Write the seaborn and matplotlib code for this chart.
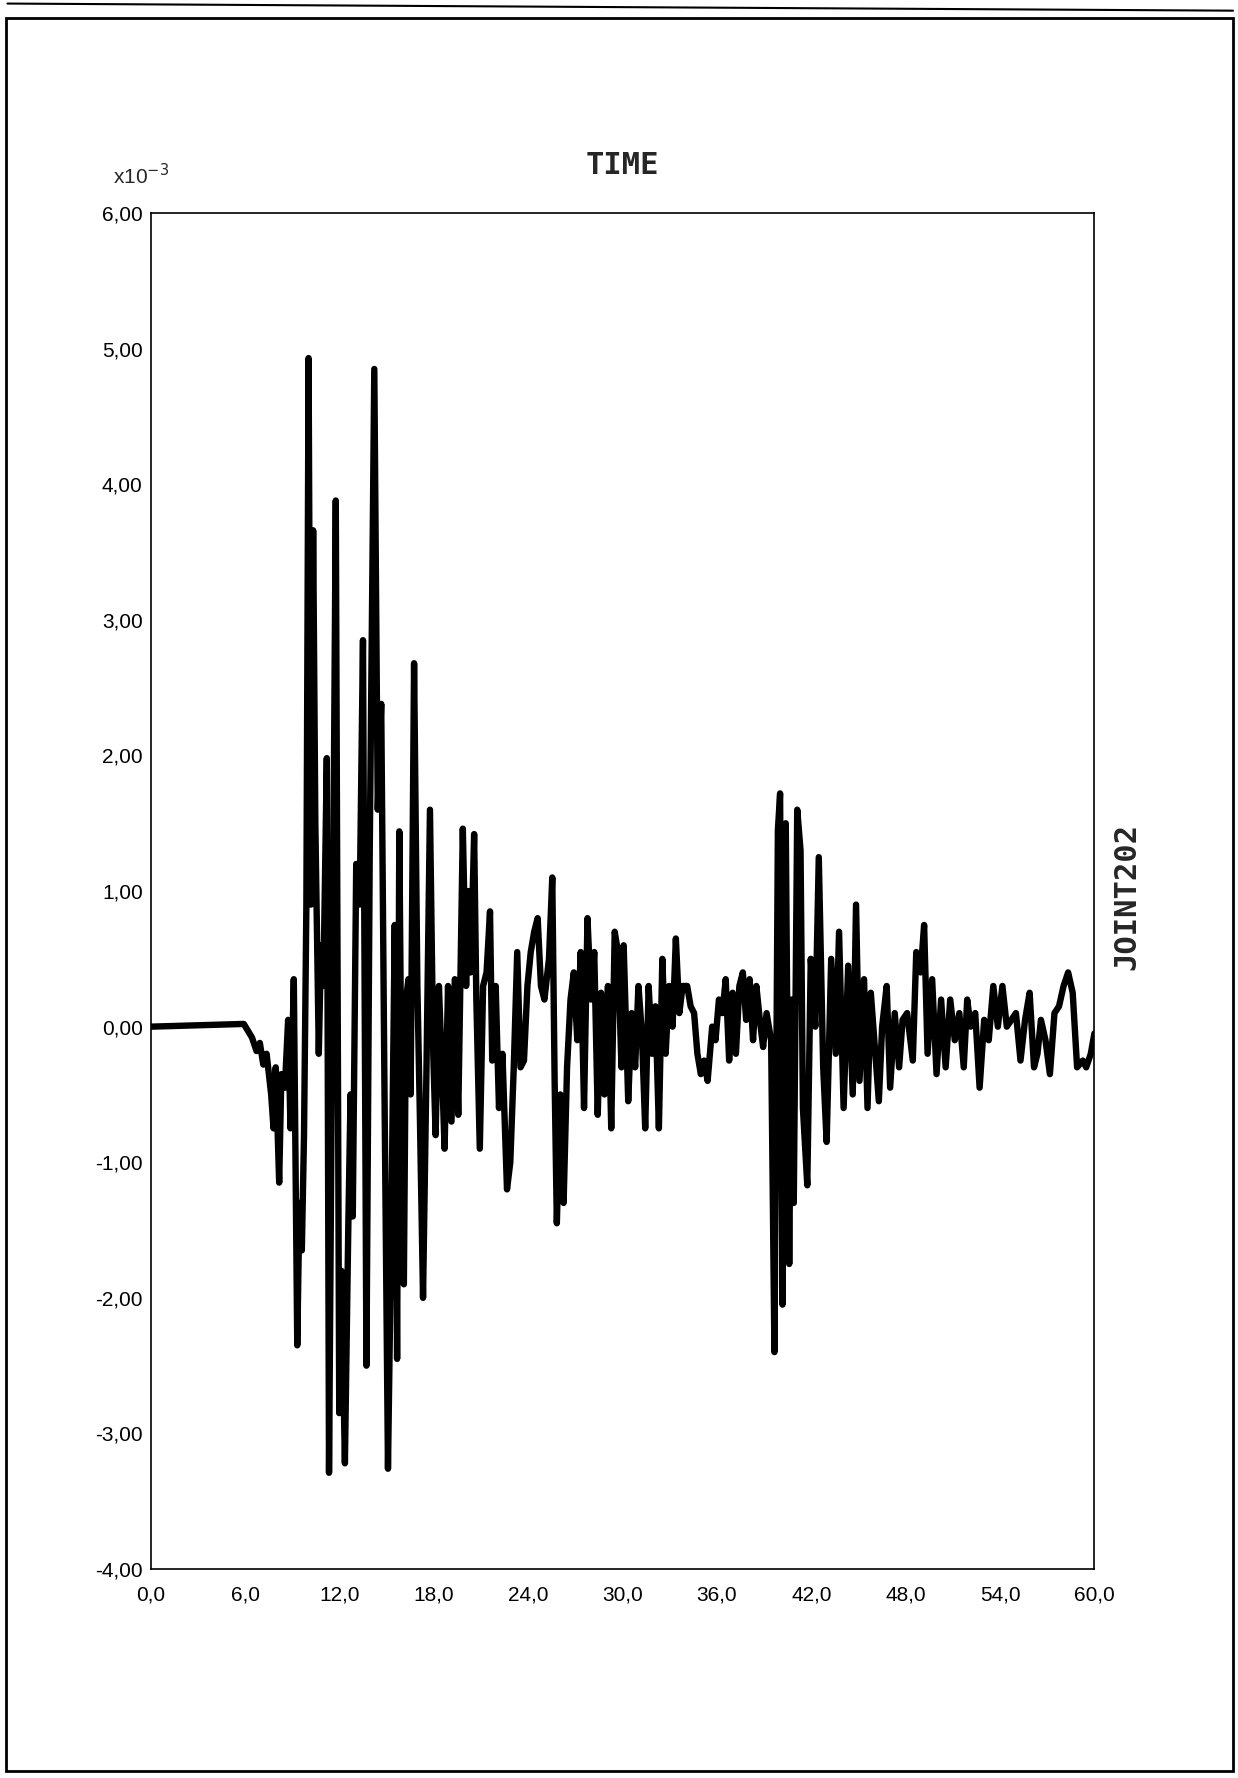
import numpy as np
import pandas as pd
import matplotlib
matplotlib.use("Agg")
import matplotlib.pyplot as plt
import seaborn as sns
from matplotlib.patches import Rectangle

# Time history (values are x10^-3)
time_s = [
    0.0, 5.9, 6.42, 6.71, 6.92, 7.14, 7.35, 7.64, 7.79, 7.93, 8.15, 8.29, 8.51, 8.72, 8.87,
    9.08, 9.30, 9.44, 9.59, 9.73, 9.88, 10.02, 10.17, 10.31, 10.45, 10.67, 10.81, 10.96,
    11.18, 11.32, 11.54, 11.75, 11.97, 12.11, 12.33, 12.55, 12.69, 12.83, 13.05, 13.27,
    13.48, 13.70, 13.91, 14.20, 14.42, 14.64, 14.85, 15.07, 15.28, 15.50, 15.65, 15.79,
    15.93, 16.08, 16.22, 16.37, 16.51, 16.73, 16.94, 17.09, 17.30, 17.52, 17.74, 17.95,
    18.10, 18.31, 18.53, 18.67, 18.89, 19.11, 19.32, 19.54, 19.83, 20.04, 20.19, 20.33,
    20.55, 20.69, 20.91, 21.12, 21.34, 21.56, 21.70, 21.92, 22.13, 22.35, 22.64, 22.85,
    23.07, 23.29, 23.50, 23.72, 23.94, 24.15, 24.37, 24.59, 24.80, 25.02, 25.31, 25.52,
    25.67, 25.81, 26.03, 26.24, 26.46, 26.68, 26.89, 27.11, 27.33, 27.54, 27.76, 27.98,
    28.19, 28.41, 28.62, 28.84, 29.06, 29.27, 29.49, 29.70, 29.92, 30.06, 30.35, 30.57,
    30.79, 31.00, 31.22, 31.43, 31.65, 31.87, 32.08, 32.30, 32.52, 32.73, 32.95, 33.17,
    33.38, 33.60, 33.81, 34.10, 34.32, 34.54, 34.75, 34.97, 35.18, 35.40, 35.69, 35.90,
    36.12, 36.34, 36.55, 36.77, 36.99, 37.20, 37.42, 37.64, 37.85, 38.07, 38.29, 38.50,
    38.72, 38.93, 39.15, 39.37, 39.44, 39.65, 39.87, 40.01, 40.16, 40.37, 40.59, 40.74,
    40.88, 41.10, 41.31, 41.46, 41.74, 41.96, 42.25, 42.47, 42.75, 42.97, 43.26, 43.55,
    43.76, 44.05, 44.34, 44.63, 44.84, 45.06, 45.35, 45.57, 45.78, 46.07, 46.29, 46.50,
    46.79, 47.01, 47.30, 47.58, 47.80, 48.09, 48.45, 48.67, 48.95, 49.17, 49.39, 49.68,
    49.96, 50.25, 50.54, 50.83, 51.12, 51.41, 51.69, 51.91, 52.13, 52.42, 52.70, 52.99,
    53.28, 53.57, 53.86, 54.15, 54.43, 54.72, 55.01, 55.30, 55.59, 55.88, 56.16, 56.38,
    56.60, 56.89, 57.17, 57.46, 57.75, 58.04, 58.33, 58.62, 58.90, 59.26, 59.48, 59.77,
    60.0,
]
accel = [
    0.0, 0.02, -0.08, -0.18, -0.12, -0.28, -0.2, -0.5, -0.75, -0.3, -1.15, -0.35, -0.45, 0.05, -0.75,
    0.35, -2.35, -1.3, -1.65, -0.8, 0.9, 4.93, 0.9, 3.66, 1.5, -0.2, 0.6, 0.3,
    1.98, -3.29, 0.3, 3.88, -2.85, -1.8, -3.22, -1.45, -0.5, -1.4, 1.2, 0.9,
    2.85, -2.5, 1.3, 4.85, 1.6, 2.38, -0.5, -3.26, -1.5, 0.75, -2.45, 1.44,
    -0.5, -1.9, 0.2, 0.35, -0.5, 2.68, 0.3, -0.6, -2.0, -0.3, 1.6, -0.2,
    -0.8, 0.3, -0.4, -0.9, 0.3, -0.7, 0.35, -0.65, 1.46, 0.3, 1.0, 0.4,
    1.42, 0.2, -0.9, 0.3, 0.4, 0.85, -0.25, 0.3, -0.6, -0.2, -1.2, -1.0,
    -0.3, 0.55, -0.3, -0.25, 0.3, 0.55, 0.7, 0.8, 0.3, 0.2, 0.5, 1.1,
    -0.4, -1.45, -0.5, -1.3, -0.3, 0.2, 0.4, -0.1, 0.55, -0.6, 0.8, 0.2,
    0.55, -0.65, 0.25, -0.5, 0.3, -0.75, 0.7, 0.55, -0.3, 0.6, -0.55, 0.1,
    -0.3, 0.3, -0.05, -0.75, 0.3, -0.2, 0.15, -0.75, 0.5, -0.2, 0.3, 0.0,
    0.65, 0.1, 0.3, 0.3, 0.15, 0.1, -0.2, -0.35, -0.25, -0.4, 0.0, -0.1,
    0.2, 0.1, 0.35, -0.25, 0.25, -0.2, 0.3, 0.4, 0.05, 0.35, -0.1, 0.3,
    0.05, -0.15, 0.1, -0.05, -0.1, -2.4, 1.45, 1.72, -2.05, 1.5, -1.75, 0.2,
    -1.3, 1.6, 1.3, -0.6, -1.17, 0.5, 0.0, 1.25, -0.3, -0.85, 0.5, -0.2,
    0.7, -0.6, 0.45, -0.5, 0.9, -0.4, 0.35, -0.6, 0.25, -0.2, -0.55, 0.0,
    0.3, -0.45, 0.1, -0.3, 0.05, 0.1, -0.25, 0.55, 0.4, 0.75, -0.2, 0.35,
    -0.35, 0.2, -0.3, 0.2, -0.1, 0.1, -0.3, 0.2, 0.0, 0.1, -0.45, 0.05,
    -0.1, 0.3, 0.0, 0.3, 0.0, 0.05, 0.1, -0.25, 0.05, 0.25, -0.3, -0.2,
    0.05, -0.1, -0.35, 0.1, 0.15, 0.3, 0.4, 0.25, -0.3, -0.25, -0.3, -0.2,
    -0.05,
]
x_ticks = [0, 6, 12, 18, 24, 30, 36, 42, 48, 54, 60]
y_ticks = [-4, -3, -2, -1, 0, 1, 2, 3, 4, 5, 6]

df = pd.DataFrame({"time": time_s, "accel": accel})

sns.set_style("white")
plt.rcParams["font.family"] = ["Liberation Sans", "DejaVu Sans"]

fig = plt.figure(figsize=(12.38, 17.78), dpi=100)
ax = fig.add_axes([0.122, 0.1175, 0.762, 0.7627])

sns.lineplot(data=df, x="time", y="accel", ax=ax, color="black", linewidth=4.6,
             estimator=None, sort=False)

ax.set_xlim(0, 60)
ax.set_ylim(-4, 6)
ax.set_xticks(x_ticks)
ax.set_xticklabels([f"{t:.1f}".replace(".", ",") for t in x_ticks])
ax.set_yticks(y_ticks)
ax.set_yticklabels([f"{v:.2f}".replace(".", ",") for v in y_ticks])
ax.tick_params(axis="both", length=0, labelsize=15, colors="black")
ax.tick_params(axis="x", pad=12)
ax.tick_params(axis="y", pad=6)
ax.set_xlabel("")
ax.set_ylabel("")
for sp in ax.spines.values():
    sp.set_visible(True)
    sp.set_color("black")
    sp.set_linewidth(1.2)

mono = ["DejaVu Sans Mono", "DejaVu Sans"]
ax.set_title("TIME", fontsize=22, fontweight="bold", family=mono, pad=28)
ax.text(-0.04, 1.018, "x10$^{-3}$", transform=ax.transAxes, fontsize=15,
        ha="left", va="bottom")
fig.text(0.91, 0.496, "JOINT202", rotation=90, fontsize=22, fontweight="bold",
         family=mono, ha="center", va="center")

# scanned page border
fig.patches.append(Rectangle((0.005, 0.004), 0.991, 0.986, transform=fig.transFigure,
                             fill=False, edgecolor="black", linewidth=2))
fig.lines.append(plt.Line2D([0.006, 0.996], [0.998, 0.994], transform=fig.transFigure,
                            color="black", linewidth=1.5))

fig.savefig("out.png", dpi=100, facecolor="white")
